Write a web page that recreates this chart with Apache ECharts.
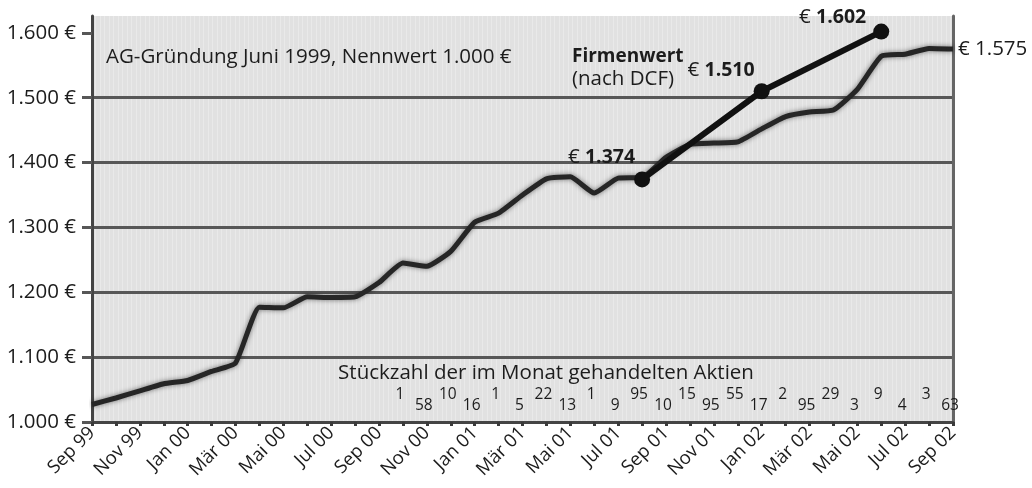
<!DOCTYPE html>
<html>
<head>
<meta charset="utf-8">
<script src="https://cdn.jsdelivr.net/npm/echarts@6/dist/echarts.min.js"></script>
<style>
  html, body { margin: 0; padding: 0; background: #fff; }
  #chart { width: 1032px; height: 488px; }
</style>
</head>
<body>
<div id="chart"></div>
<script>
// Monate Sep 99 .. Sep 02
const months = [
  'Sep 99', 'Okt 99', 'Nov 99', 'Dez 99', 'Jan 00', 'Feb 00', 'Mär 00', 'Apr 00',
  'Mai 00', 'Jun 00', 'Jul 00', 'Aug 00', 'Sep 00', 'Okt 00', 'Nov 00', 'Dez 00',
  'Jan 01', 'Feb 01', 'Mär 01', 'Apr 01', 'Mai 01', 'Jun 01', 'Jul 01', 'Aug 01',
  'Sep 01', 'Okt 01', 'Nov 01', 'Dez 01', 'Jan 02', 'Feb 02', 'Mär 02', 'Apr 02',
  'Mai 02', 'Jun 02', 'Jul 02', 'Aug 02', 'Sep 02'
];

// Aktienkurs je Monat (€)
const kurs = [
  1027, 1037, 1048, 1059, 1064, 1078, 1091, 1177,
  1176, 1193, 1192, 1193, 1215, 1245, 1240, 1263,
  1308, 1322, 1350, 1375, 1378, 1353, 1376, 1377,
  1408, 1428, 1430, 1432, 1452, 1471, 1478, 1481,
  1513, 1564, 1567, 1576, 1575
];

// Firmenwert (nach DCF)
const firmenwertMonate = ['Aug 01', 'Jan 02', 'Jun 02'];
const firmenwert = [1374, 1510, 1602];

// Stückzahl der im Monat gehandelten Aktien, ab Okt 00
const stueckStart = 'Okt 00';
const stueckzahl = [1, 58, 10, 16, 1, 5, 22, 13, 1, 9, 95, 10, 15, 95, 55, 17, 2, 95, 29, 3, 9, 4, 3, 63];

const yTicks = [1000, 1100, 1200, 1300, 1400, 1500, 1600];

const FONT = '"Open Sans", "Noto Sans", sans-serif';
const TEXT = '#1c1c1c';
const GRID = '#575757';
const FS = 20.5;

function euro(v) {
  return (v / 1000).toFixed(3);
}

// light vertical stripes like the printed background
function stripePattern() {
  const c = document.createElement('canvas');
  c.width = 9; c.height = 4;
  const ctx = c.getContext('2d');
  ctx.fillStyle = '#e1e1e1';
  ctx.fillRect(0, 0, 9, 4);
  ctx.fillStyle = '#e9e9e9';
  ctx.fillRect(1, 0, 1, 4);
  ctx.fillRect(5, 0, 1, 4);
  return c;
}

const kursData = kurs.map((v, i) => [i, v]);

const fwLabelPos = [
  { position: 'left', offset: [6, -22] },
  { position: 'left', offset: [6, -21] },
  { position: 'left', offset: [-2, -14] }
];
const fwData = firmenwert.map((v, k) => ({
  value: [months.indexOf(firmenwertMonate[k]), v],
  label: Object.assign({ show: true }, fwLabelPos[k])
}));

const s0 = months.indexOf(stueckStart);
const stueckData = stueckzahl.map((n, k) => ({
  value: [s0 + k, 1033],
  label: { offset: [-3, k % 2 === 0 ? -6 : 5] }
}));

const chart = echarts.init(document.getElementById('chart'));

chart.setOption({
  animation: false,
  backgroundColor: '#fff',
  grid: {
    left: 92, right: 79, top: 16, bottom: 66,
    show: true, borderWidth: 0,
    backgroundColor: { image: stripePattern(), repeat: 'repeat' }
  },
  xAxis: {
    type: 'value',
    min: 0, max: months.length - 1, interval: 1,
    axisLine: { show: true, lineStyle: { color: '#444', width: 3 } },
    axisTick: { show: true, length: 4, lineStyle: { color: '#3a3a3a', width: 3 } },
    splitLine: { show: false },
    axisLabel: {
      rotate: 45, margin: 8,
      fontFamily: FONT, fontSize: 18.5, color: TEXT,
      formatter: v => (v % 2 === 0 ? months[v] : '')
    }
  },
  yAxis: [{
    type: 'value',
    min: 1000, max: 1626, interval: 100,
    axisLine: { show: true, lineStyle: { color: '#444', width: 3 } },
    axisTick: { show: true, length: 10, customValues: yTicks, lineStyle: { color: GRID, width: 3 } },
    splitLine: { show: true, showMinLine: false, showMaxLine: false, lineStyle: { color: GRID, width: 3 } },
    axisLabel: {
      margin: 16, showMaxLabel: false,
      fontFamily: FONT, fontSize: FS, color: TEXT,
      formatter: v => euro(v) + ' €'
    }
  }, {
    type: 'value', position: 'right',
    min: 1000, max: 1626,
    axisLine: { show: true, lineStyle: { color: '#666', width: 3 } },
    axisTick: { show: false }, axisLabel: { show: false }, splitLine: { show: false }
  }],
  graphic: [
    {
      type: 'text', x: 106, y: 57,
      style: { text: 'AG-Gründung Juni 1999, Nennwert 1.000 €', font: FS + 'px ' + FONT, fill: TEXT, verticalAlign: 'middle' }
    },
    {
      type: 'text', x: 572, y: 57,
      style: { text: 'Firmenwert', font: 'bold 19px ' + FONT, fill: TEXT, verticalAlign: 'middle' }
    },
    {
      type: 'text', x: 572, y: 79,
      style: { text: '(nach DCF)', font: FS + 'px ' + FONT, fill: TEXT, verticalAlign: 'middle' }
    },
    {
      type: 'text', x: 546, y: 373,
      style: { text: 'Stückzahl der im Monat gehandelten Aktien', font: FS + 'px ' + FONT, fill: TEXT, align: 'center', verticalAlign: 'middle' }
    }
  ],
  series: [
    {
      name: 'Kurs',
      type: 'line',
      data: kursData,
      symbol: 'none',
      smooth: 0.15,
      z: 3,
      lineStyle: { color: '#262626', width: 5, shadowBlur: 5, shadowColor: 'rgba(0,0,0,0.5)' },
      endLabel: {
        show: true, distance: 5,
        formatter: p => '€ ' + euro(p.value[1]),
        fontFamily: FONT, fontSize: FS, color: TEXT
      }
    },
    {
      name: 'Firmenwert',
      type: 'line',
      data: fwData,
      symbol: 'circle',
      symbolSize: 16,
      z: 4,
      lineStyle: { color: '#111', width: 6 },
      itemStyle: { color: '#111' },
      label: {
        formatter: p => '{e|€ }{b|' + euro(p.value[1]) + '}',
        rich: {
          e: { fontFamily: FONT, fontSize: FS, color: TEXT },
          b: { fontFamily: FONT, fontSize: 19.5, fontWeight: 'bold', color: TEXT }
        }
      }
    },
    {
      name: 'Stückzahl',
      type: 'scatter',
      data: stueckData,
      symbolSize: 0,
      z: 2,
      itemStyle: { opacity: 1, color: TEXT },
      label: {
        show: true, position: 'inside',
        textBorderWidth: 0, textBorderColor: 'transparent',
        formatter: p => String(stueckzahl[p.dataIndex]),
        fontFamily: FONT, fontSize: 15.5, color: TEXT
      }
    }
  ]
});
</script>
</body>
</html>
